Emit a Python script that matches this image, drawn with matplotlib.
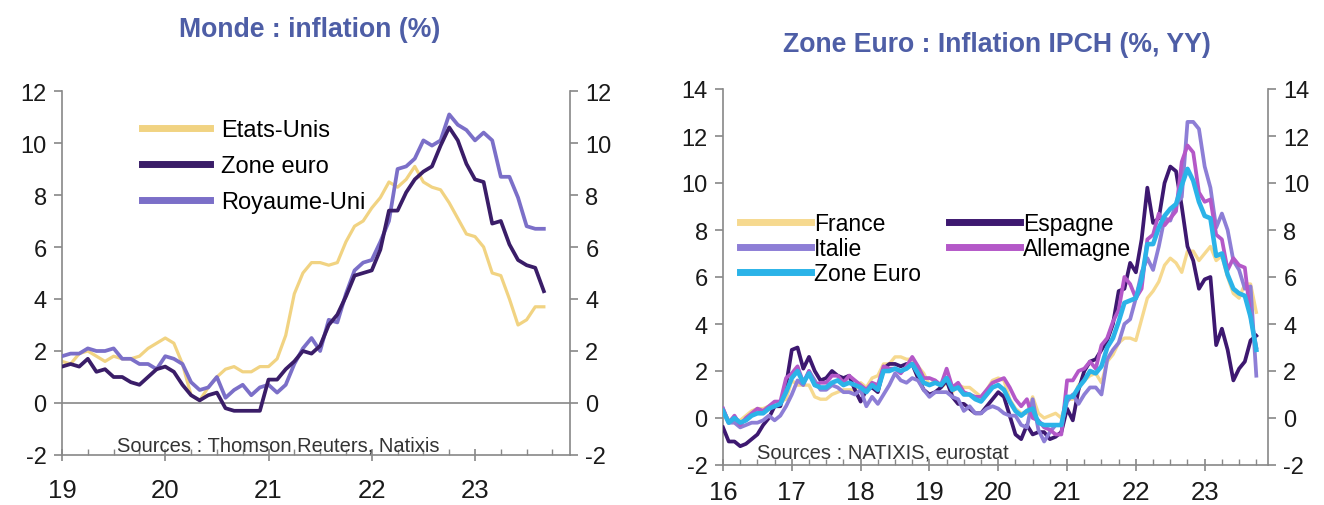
import numpy as np
import matplotlib
matplotlib.use("Agg")
import matplotlib.pyplot as plt
from matplotlib.ticker import MultipleLocator

plt.rcParams['font.family'] = ['Liberation Sans', 'DejaVu Sans']
plt.rcParams['axes.unicode_minus'] = False

#### data: left panel (monthly, Jan 2019 -> Sep 2023)
start_left = 2019
etats_unis = [1.6, 1.5, 1.9, 2.0, 1.8, 1.6, 1.8, 1.7, 1.7, 1.8, 2.1, 2.3,
              2.5, 2.3, 1.5, 0.3, 0.1, 0.6, 1.0, 1.3, 1.4, 1.2, 1.2, 1.4,
              1.4, 1.7, 2.6, 4.2, 5.0, 5.4, 5.4, 5.3, 5.4, 6.2, 6.8, 7.0,
              7.5, 7.9, 8.5, 8.3, 8.6, 9.1, 8.5, 8.3, 8.2, 7.7, 7.1, 6.5,
              6.4, 6.0, 5.0, 4.9, 4.0, 3.0, 3.2, 3.7, 3.7]
zone_euro = [1.4, 1.5, 1.4, 1.7, 1.2, 1.3, 1.0, 1.0, 0.8, 0.7, 1.0, 1.3,
             1.4, 1.2, 0.7, 0.3, 0.1, 0.3, 0.4, -0.2, -0.3, -0.3, -0.3, -0.3,
             0.9, 0.9, 1.3, 1.6, 2.0, 1.9, 2.2, 3.0, 3.4, 4.1, 4.9, 5.0,
             5.1, 5.9, 7.4, 7.4, 8.1, 8.6, 8.9, 9.1, 9.9, 10.6, 10.1, 9.2,
             8.6, 8.5, 6.9, 7.0, 6.1, 5.5, 5.3, 5.2, 4.3]
royaume_uni = [1.8, 1.9, 1.9, 2.1, 2.0, 2.0, 2.1, 1.7, 1.7, 1.5, 1.5, 1.3,
               1.8, 1.7, 1.5, 0.8, 0.5, 0.6, 1.0, 0.2, 0.5, 0.7, 0.3, 0.6,
               0.7, 0.4, 0.7, 1.5, 2.1, 2.5, 2.0, 3.2, 3.1, 4.2, 5.1, 5.4,
               5.5, 6.2, 7.0, 9.0, 9.1, 9.4, 10.1, 9.9, 10.1, 11.1, 10.7, 10.5,
               10.1, 10.4, 10.1, 8.7, 8.7, 7.9, 6.8, 6.7, 6.7]
years_left = [2019, 2020, 2021, 2022, 2023]
labels_left = ['19', '20', '21', '22', '23']

#### data: right panel (monthly HICP, Jan 2016 -> Oct 2023)
start_right = 2016
france = [0.3, -0.1, -0.1, -0.1, 0.1, 0.3, 0.4, 0.4, 0.5, 0.5, 0.7, 0.8,
          1.6, 1.4, 1.4, 1.4, 0.9, 0.8, 0.8, 1.0, 1.1, 1.2, 1.2, 1.2,
          1.5, 1.3, 1.7, 1.8, 2.3, 2.3, 2.6, 2.6, 2.5, 2.5, 2.2, 1.9,
          1.4, 1.6, 1.3, 1.5, 1.1, 1.4, 1.3, 1.3, 1.1, 0.9, 1.2, 1.6,
          1.7, 1.6, 0.8, 0.4, 0.2, 0.2, 0.9, 0.2, 0.0, 0.1, 0.2, 0.0,
          0.8, 0.8, 1.4, 1.6, 1.8, 1.9, 1.5, 2.4, 2.7, 3.2, 3.4, 3.4,
          3.3, 4.2, 5.1, 5.4, 5.8, 6.5, 6.8, 6.6, 6.2, 7.1, 7.1, 6.7,
          7.0, 7.3, 6.7, 6.9, 6.0, 5.3, 5.1, 5.7, 5.7, 4.5]
espagne = [-0.4, -1.0, -1.0, -1.2, -1.1, -0.9, -0.7, -0.3, 0.0, 0.5, 0.5, 1.4,
           2.9, 3.0, 2.1, 2.6, 2.0, 1.6, 1.7, 2.0, 1.8, 1.7, 1.8, 1.2,
           0.7, 1.2, 1.3, 1.1, 2.1, 2.3, 2.3, 2.2, 2.3, 2.3, 1.7, 1.2,
           1.0, 1.1, 1.3, 1.6, 0.9, 0.6, 0.6, 0.4, 0.2, 0.2, 0.5, 0.8,
           1.1, 0.9, 0.1, -0.7, -0.9, -0.3, -0.7, -0.6, -0.6, -0.9, -0.8, -0.6,
           0.4, -0.1, 1.2, 2.0, 2.4, 2.5, 2.9, 3.3, 4.0, 5.4, 5.5, 6.6,
           6.2, 7.6, 9.8, 8.3, 8.5, 10.0, 10.7, 10.5, 9.0, 7.3, 6.7, 5.5,
           5.9, 6.0, 3.1, 3.8, 2.9, 1.6, 2.1, 2.4, 3.3, 3.5]
italie = [0.4, -0.2, -0.2, -0.4, -0.3, -0.2, -0.2, -0.1, 0.1, -0.1, 0.1, 0.5,
          1.0, 1.6, 1.4, 2.0, 1.6, 1.2, 1.2, 1.4, 1.3, 1.1, 1.1, 1.0,
          1.2, 0.5, 0.9, 0.6, 1.0, 1.4, 1.9, 1.6, 1.5, 1.7, 1.6, 1.2,
          0.9, 1.1, 1.1, 1.1, 0.9, 0.8, 0.3, 0.5, 0.2, 0.2, 0.4, 0.5,
          0.4, 0.2, 0.1, 0.1, -0.3, -0.4, 0.8, -0.5, -1.0, -0.6, -0.3, -0.3,
          0.7, 1.0, 0.6, 1.0, 1.3, 1.3, 1.0, 2.5, 2.9, 3.2, 4.0, 4.2,
          5.1, 6.2, 6.8, 6.3, 7.3, 8.5, 8.4, 9.1, 9.4, 12.6, 12.6, 12.3,
          10.7, 9.8, 8.1, 8.7, 8.0, 6.7, 6.3, 5.5, 5.6, 1.8]
allemagne = [0.4, -0.2, 0.1, -0.3, 0.0, 0.2, 0.4, 0.3, 0.5, 0.7, 0.7, 1.7,
             1.9, 2.2, 1.5, 2.0, 1.4, 1.5, 1.5, 1.8, 1.8, 1.5, 1.8, 1.6,
             1.4, 1.2, 1.5, 1.4, 2.2, 2.1, 2.1, 1.9, 2.2, 2.6, 2.2, 1.7,
             1.7, 1.6, 1.4, 2.1, 1.3, 1.5, 1.1, 1.0, 0.9, 0.9, 1.2, 1.5,
             1.6, 1.7, 1.3, 0.8, 0.5, 0.8, 0.0, -0.1, -0.4, -0.5, -0.7, -0.7,
             1.6, 1.6, 2.0, 2.1, 2.4, 2.1, 3.1, 3.4, 4.1, 4.6, 6.0, 5.7,
             5.1, 5.5, 7.6, 7.8, 8.7, 8.2, 8.5, 8.8, 10.9, 11.6, 11.3, 9.6,
             9.2, 9.3, 7.8, 7.6, 6.3, 6.8, 6.5, 6.4, 4.3, 3.0]
zone_euro_ipch = [0.3, -0.2, 0.0, -0.2, -0.1, 0.1, 0.2, 0.2, 0.4, 0.5, 0.6, 1.1,
                  1.7, 2.0, 1.5, 1.9, 1.4, 1.3, 1.3, 1.5, 1.6, 1.4, 1.5, 1.4,
                  1.3, 1.1, 1.4, 1.2, 2.0, 2.0, 2.1, 2.0, 2.1, 2.3, 1.9, 1.5,
                  1.4, 1.5, 1.4, 1.7, 1.2, 1.3, 1.0, 1.0, 0.8, 0.7, 1.0, 1.3,
                  1.4, 1.2, 0.7, 0.3, 0.1, 0.3, 0.4, -0.2, -0.3, -0.3, -0.3, -0.3,
                  0.9, 0.9, 1.3, 1.6, 2.0, 1.9, 2.2, 3.0, 3.4, 4.1, 4.9, 5.0,
                  5.1, 5.9, 7.4, 7.4, 8.1, 8.6, 8.9, 9.1, 9.9, 10.6, 10.1, 9.2,
                  8.6, 8.5, 6.9, 7.0, 6.1, 5.5, 5.3, 5.2, 4.3, 2.9]
years_right = [2016, 2017, 2018, 2019, 2020, 2021, 2022, 2023]
labels_right = ['16', '17', '18', '19', '20', '21', '22', '23']

title_col = '#4e5ea6'
axis_col = '#888888'

fig = plt.figure(figsize=(13.24, 5.06), dpi=100)


def style_axis(ax, ymin, ymax, years, labels, x0, xpad):
    ax.set_ylim(ymin, ymax)
    ax.set_xlim(x0, years[-1] + 0.92)
    ax.yaxis.set_major_locator(MultipleLocator(2))
    ax.set_xticks(years)
    ax.set_xticklabels(labels)
    ax.xaxis.set_minor_locator(MultipleLocator(0.25))
    ax.spines['top'].set_visible(False)
    for s in ['left', 'right', 'bottom']:
        ax.spines[s].set_color(axis_col)
        ax.spines[s].set_linewidth(1.2)
    ax.tick_params(axis='y', which='both', left=True, right=True,
                   labelleft=True, labelright=True, direction='out',
                   length=6, width=1.2, color=axis_col, labelsize=17,
                   labelcolor='#1a1a1a', pad=5)
    ax.tick_params(axis='x', which='major', direction='inout', length=9,
                   width=1.2, color=axis_col, labelsize=18.5,
                   labelcolor='#1a1a1a', pad=xpad)
    ax.tick_params(axis='x', which='minor', direction='in', length=4,
                   width=1.0, color=axis_col)


#### subplot 1
ax1 = fig.add_axes([62 / 1324, 50 / 506, 508 / 1324, 364 / 506])
x1 = start_left + np.arange(len(etats_unis)) / 12
ax1.axhline(0, color=axis_col, lw=1.2, zorder=1)
ax1.plot(x1, etats_unis, color='#f1d382', lw=2.3, label='Etats-Unis', zorder=2)
ax1.plot(x1, royaume_uni, color='#7b6fc8', lw=2.7, label='Royaume-Uni', zorder=3)
ax1.plot(x1, zone_euro, color='#3a1d68', lw=2.7, label='Zone euro', zorder=4)
style_axis(ax1, -2, 12, years_left, labels_left, start_left, 12)
h, l = ax1.get_legend_handles_labels()
order = [0, 2, 1]
leg1 = ax1.legend([h[i] for i in order], [l[i] for i in order],
                  loc='upper left', bbox_to_anchor=(0.157, 0.923),
                  frameon=False, fontsize=17, handlelength=2.9,
                  handletextpad=0.45, labelspacing=0.59, borderpad=0,
                  borderaxespad=0)
for line in leg1.get_lines():
    line.set_linewidth(5)
ax1.text(0.108, 0.012, 'Sources : Thomson Reuters, Natixis', va='baseline',
         transform=ax1.transAxes, fontsize=14.5, color='#333333')
fig.text(310 / 1324, 1 - 30 / 506, 'Monde : inflation (%)', ha='center',
         va='center', fontsize=19.2, fontweight='bold', color=title_col)

##### subplot 2
ax2 = fig.add_axes([723 / 1324, 40 / 506, 545 / 1324, 376 / 506])
x2 = start_right + np.arange(len(france)) / 12
ax2.plot(x2, france, color='#f6d98f', lw=2.4, label='France', zorder=2)
ax2.plot(x2, espagne, color='#3d1870', lw=2.7, label='Espagne', zorder=3)
ax2.plot(x2, italie, color='#8d7ed6', lw=2.7, label='Italie', zorder=4)
ax2.plot(x2, allemagne, color='#b458c8', lw=2.7, label='Allemagne', zorder=5)
ax2.plot(x2, zone_euro_ipch, color='#2bb3e8', lw=3.3, label='Zone Euro', zorder=6)
style_axis(ax2, -2, 14, years_right, labels_right, start_right, 6.5)
h, l = ax2.get_legend_handles_labels()
order = [0, 2, 4, 1, 3]
leg2 = ax2.legend([h[i] for i in order], [l[i] for i in order], ncol=2,
                  loc='upper left', bbox_to_anchor=(0.031, 0.674),
                  frameon=False, fontsize=16.5, handlelength=3.1,
                  handletextpad=0.15, labelspacing=0.1, columnspacing=1.2,
                  borderpad=0, borderaxespad=0)
for line in leg2.get_lines():
    line.set_linewidth(5)
ax2.text(0.063, 0.021, 'Sources : NATIXIS, eurostat', va='baseline',
         transform=ax2.transAxes, fontsize=14.5, color='#333333')
fig.text(997 / 1324, 1 - 45 / 506, 'Zone Euro : Inflation IPCH (%, YY)',
         ha='center', va='center', fontsize=19.2, fontweight='bold',
         color=title_col)

fig.savefig('out.png', dpi=100)
